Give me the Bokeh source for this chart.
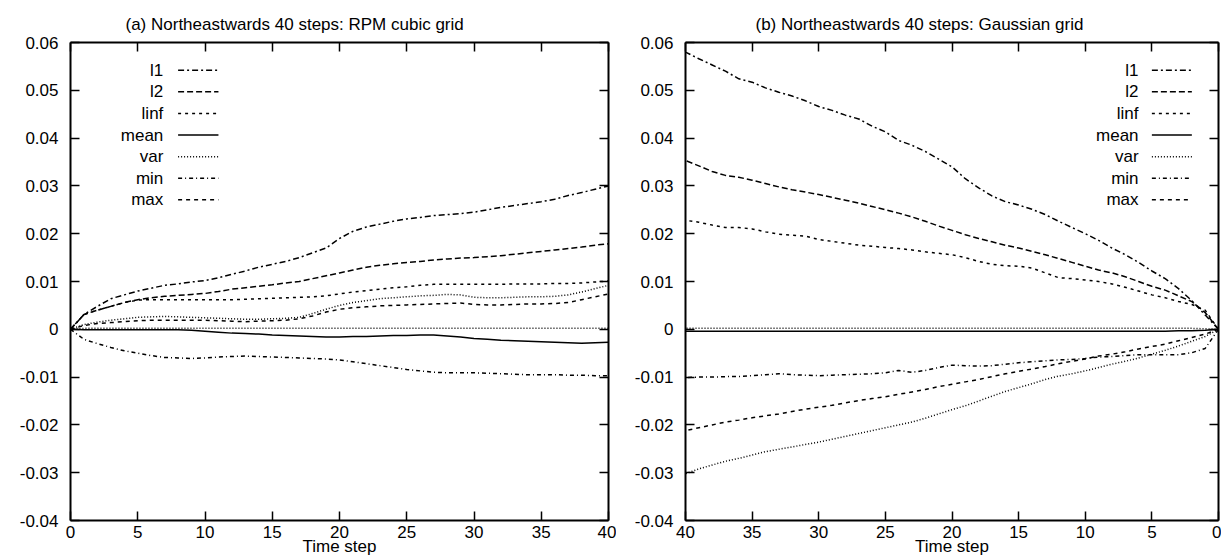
from bokeh.plotting import figure
from bokeh.layouts import row
from bokeh.models import Range1d, FixedTicker, LinearAxis
from bokeh.embed import file_html
from bokeh.resources import INLINE
from bokeh.core.properties import value

# ---------------- data ----------------
steps = list(range(41))
x_ticks = [0, 5, 10, 15, 20, 25, 30, 35, 40]
x_tick_labels = ["0", "5", "10", "15", "20", "25", "30", "35", "40"]
y_ticks = [-0.04, -0.03, -0.02, -0.01, 0.0, 0.01, 0.02, 0.03, 0.04, 0.05, 0.06]
y_tick_labels = ["-0.04", "-0.03", "-0.02", "-0.01", "0", "0.01", "0.02", "0.03", "0.04", "0.05", "0.06"]
legend_names = ["l1", "l2", "linf", "mean", "var", "min", "max"]
title_a = "(a) Northeastwards 40 steps: RPM cubic grid"
title_b = "(b) Northeastwards 40 steps: Gaussian grid"
x_label = "Time step"

# panel (a): RPM cubic grid
a_l1 = [0, 0.0031, 0.0048, 0.0064, 0.0072, 0.0080, 0.0086, 0.0092, 0.0095, 0.0099,
        0.0102, 0.0108, 0.0115, 0.0122, 0.0130, 0.0136, 0.0142, 0.0150, 0.0160, 0.0170,
        0.0190, 0.0205, 0.0214, 0.0220, 0.0226, 0.0231, 0.0234, 0.0238, 0.0240, 0.0242,
        0.0245, 0.0250, 0.0255, 0.0259, 0.0263, 0.0267, 0.0272, 0.0280, 0.0286, 0.0293, 0.0300]
a_l2 = [0, 0.0031, 0.0040, 0.0048, 0.0056, 0.0062, 0.0066, 0.0069, 0.0071, 0.0073,
        0.0075, 0.0079, 0.0084, 0.0087, 0.0090, 0.0093, 0.0097, 0.0100, 0.0106, 0.0112,
        0.0118, 0.0124, 0.0130, 0.0134, 0.0137, 0.0140, 0.0142, 0.0145, 0.0147, 0.0149,
        0.0150, 0.0152, 0.0154, 0.0157, 0.0160, 0.0163, 0.0166, 0.0169, 0.0172, 0.0176, 0.0179]
a_linf = [0, 0.0031, 0.0040, 0.0048, 0.0056, 0.0061, 0.0062, 0.0062, 0.0062, 0.0062,
          0.0062, 0.0062, 0.0062, 0.0063, 0.0064, 0.0065, 0.0066, 0.0067, 0.0068, 0.0070,
          0.0074, 0.0078, 0.0081, 0.0084, 0.0087, 0.0089, 0.0092, 0.0094, 0.0094, 0.0094,
          0.0094, 0.0094, 0.0094, 0.0095, 0.0095, 0.0095, 0.0096, 0.0096, 0.0097, 0.0099, 0.0101]
a_mean = [0, -0.0001, -0.0001, -0.0001, -0.0001, -0.0001, -0.0001, -0.0001, -0.0001, -0.0002,
          -0.0004, -0.0006, -0.0008, -0.0009, -0.0010, -0.0012, -0.0013, -0.0014, -0.0015, -0.0016,
          -0.0016, -0.0015, -0.0015, -0.0014, -0.0013, -0.0013, -0.0012, -0.0012, -0.0014, -0.0016,
          -0.0019, -0.0021, -0.0023, -0.0024, -0.0025, -0.0026, -0.0027, -0.0028, -0.0029, -0.0028, -0.0027]
a_var = [0, 0.0002, 0.0002, 0.0002, 0.0002, 0.0002, 0.0002, 0.0002, 0.0002, 0.0002,
         0.0002, 0.0002, 0.0002, 0.0002, 0.0002, 0.0002, 0.0002, 0.0002, 0.0002, 0.0002,
         0.0002, 0.0002, 0.0002, 0.0002, 0.0002, 0.0002, 0.0002, 0.0002, 0.0002, 0.0002,
         0.0002, 0.0002, 0.0002, 0.0002, 0.0002, 0.0002, 0.0002, 0.0002, 0.0002, 0.0002, 0.0002]
a_min = [0, -0.0021, -0.0030, -0.0038, -0.0045, -0.0050, -0.0055, -0.0059, -0.0060, -0.0061,
         -0.0060, -0.0058, -0.0057, -0.0056, -0.0057, -0.0058, -0.0059, -0.0060, -0.0061, -0.0062,
         -0.0064, -0.0068, -0.0072, -0.0076, -0.0080, -0.0084, -0.0087, -0.0090, -0.0091, -0.0091,
         -0.0091, -0.0092, -0.0093, -0.0094, -0.0095, -0.0095, -0.0095, -0.0096, -0.0096, -0.0097, -0.0097]
a_max = [0, 0.0008, 0.0012, 0.0014, 0.0016, 0.0018, 0.0019, 0.0019, 0.0019, 0.0019,
         0.0019, 0.0018, 0.0017, 0.0016, 0.0017, 0.0018, 0.0019, 0.0022, 0.0028, 0.0036,
         0.0042, 0.0045, 0.0047, 0.0049, 0.0050, 0.0051, 0.0052, 0.0053, 0.0054, 0.0055,
         0.0052, 0.0051, 0.0051, 0.0052, 0.0053, 0.0053, 0.0054, 0.0056, 0.0062, 0.0068, 0.0074]
a_extra = [0, 0.0010, 0.0015, 0.0019, 0.0022, 0.0025, 0.0026, 0.0027, 0.0026, 0.0025,
           0.0024, 0.0023, 0.0022, 0.0021, 0.0021, 0.0022, 0.0023, 0.0025, 0.0033, 0.0042,
           0.0050, 0.0056, 0.0060, 0.0064, 0.0066, 0.0068, 0.0070, 0.0071, 0.0073, 0.0072,
           0.0067, 0.0066, 0.0066, 0.0067, 0.0068, 0.0068, 0.0069, 0.0072, 0.0078, 0.0085, 0.0092]

# panel (b): Gaussian grid
b_l1 = [0, 0.0030, 0.0060, 0.0085, 0.0106, 0.0122, 0.0140, 0.0156, 0.0170, 0.0186,
        0.0200, 0.0213, 0.0226, 0.0240, 0.0251, 0.0260, 0.0267, 0.0279, 0.0296, 0.0315,
        0.0340, 0.0356, 0.0372, 0.0385, 0.0395, 0.0413, 0.0425, 0.0440, 0.0448, 0.0458,
        0.0466, 0.0478, 0.0488, 0.0496, 0.0505, 0.0517, 0.0524, 0.0540, 0.0553, 0.0566, 0.0580]
b_l2 = [0, 0.0035, 0.0058, 0.0070, 0.0082, 0.0090, 0.0100, 0.0110, 0.0118, 0.0124,
        0.0132, 0.0140, 0.0148, 0.0156, 0.0163, 0.0170, 0.0176, 0.0183, 0.0190, 0.0198,
        0.0207, 0.0216, 0.0226, 0.0235, 0.0243, 0.0250, 0.0257, 0.0264, 0.0270, 0.0276,
        0.0282, 0.0287, 0.0292, 0.0298, 0.0305, 0.0312, 0.0318, 0.0322, 0.0330, 0.0342, 0.0353]
b_linf = [0, 0.0040, 0.0052, 0.0058, 0.0066, 0.0072, 0.0080, 0.0088, 0.0095, 0.0100,
          0.0103, 0.0106, 0.0108, 0.0118, 0.0128, 0.0132, 0.0133, 0.0136, 0.0142, 0.0150,
          0.0156, 0.0159, 0.0162, 0.0166, 0.0169, 0.0171, 0.0174, 0.0176, 0.0180, 0.0184,
          0.0188, 0.0195, 0.0197, 0.0199, 0.0204, 0.0210, 0.0213, 0.0213, 0.0218, 0.0224, 0.0228]
b_mean = [0, -0.0002, -0.0003, -0.0003, -0.0004, -0.0004, -0.0004, -0.0004, -0.0004, -0.0004,
          -0.0004, -0.0004, -0.0004, -0.0004, -0.0004, -0.0004, -0.0004, -0.0004, -0.0004, -0.0004,
          -0.0004, -0.0004, -0.0004, -0.0004, -0.0004, -0.0004, -0.0004, -0.0004, -0.0004, -0.0004,
          -0.0004, -0.0004, -0.0004, -0.0004, -0.0004, -0.0004, -0.0004, -0.0004, -0.0004, -0.0004, -0.0004]
b_var = [0, 0.0001, 0.0002, 0.0002, 0.0002, 0.0002, 0.0002, 0.0002, 0.0002, 0.0002,
         0.0002, 0.0002, 0.0002, 0.0002, 0.0002, 0.0002, 0.0002, 0.0002, 0.0002, 0.0002,
         0.0002, 0.0002, 0.0002, 0.0002, 0.0002, 0.0002, 0.0002, 0.0002, 0.0002, 0.0002,
         0.0002, 0.0002, 0.0002, 0.0002, 0.0002, 0.0002, 0.0002, 0.0002, 0.0002, 0.0002, 0.0002]
b_min = [0, -0.0040, -0.0049, -0.0053, -0.0053, -0.0053, -0.0053, -0.0055, -0.0057, -0.0058,
         -0.0061, -0.0063, -0.0064, -0.0066, -0.0068, -0.0070, -0.0073, -0.0076, -0.0077, -0.0076,
         -0.0075, -0.0080, -0.0086, -0.0090, -0.0086, -0.0091, -0.0093, -0.0094, -0.0095, -0.0096,
         -0.0097, -0.0096, -0.0095, -0.0093, -0.0095, -0.0097, -0.0099, -0.0099, -0.0100, -0.0100, -0.0101]
b_max = [0, -0.0010, -0.0017, -0.0024, -0.0031, -0.0036, -0.0041, -0.0047, -0.0052, -0.0056,
         -0.0062, -0.0067, -0.0072, -0.0078, -0.0083, -0.0088, -0.0093, -0.0099, -0.0105, -0.0110,
         -0.0115, -0.0120, -0.0126, -0.0131, -0.0136, -0.0141, -0.0145, -0.0149, -0.0154, -0.0159,
         -0.0163, -0.0167, -0.0172, -0.0177, -0.0181, -0.0185, -0.0190, -0.0194, -0.0200, -0.0206, -0.0212]
b_extra = [0, -0.0015, -0.0025, -0.0035, -0.0044, -0.0052, -0.0060, -0.0067, -0.0073, -0.0080,
           -0.0087, -0.0093, -0.0098, -0.0105, -0.0114, -0.0122, -0.0130, -0.0140, -0.0150, -0.0160,
           -0.0168, -0.0177, -0.0186, -0.0194, -0.0200, -0.0206, -0.0212, -0.0218, -0.0224, -0.0230,
           -0.0236, -0.0241, -0.0246, -0.0251, -0.0256, -0.0263, -0.0270, -0.0276, -0.0284, -0.0292, -0.0302]

# ---------------- styles / layout ----------------
FONT = "Liberation Sans"
FS = "17px"
LW = 1.5
FIG_H = 558
dashes = {"l1": "6 3 2 3", "l2": "6 3", "linf": "3 4", "mean": "solid",
          "var": "1 2", "min": "4 3 1 3", "max": "4 4", "extra": "1 2"}


def style_axis(ax, show_labels):
    ax.axis_line_width = 2
    ax.axis_line_color = "black"
    ax.major_tick_in = 9
    ax.major_tick_out = 0
    ax.major_tick_line_width = 1.5
    ax.major_tick_line_color = "black"
    ax.minor_tick_in = 0
    ax.minor_tick_out = 0
    ax.major_label_text_font = FONT
    ax.major_label_text_color = "black"
    if show_labels:
        ax.major_label_text_font_size = FS
    else:
        ax.major_label_text_font_size = "0px"
        ax.major_label_standoff = 0


def make_panel(title, series, x_start, x_end, width, bl, br, key_text_x, key_x0, key_x1, title_offset):
    p = figure(width=width, height=FIG_H, output_backend="svg", toolbar_location=None,
               x_range=Range1d(x_start, x_end), y_range=Range1d(-0.04, 0.06),
               min_border_left=bl, min_border_right=br, min_border_top=42, min_border_bottom=0)
    p.title.text = title
    p.title.text_font = FONT
    p.title.text_font_size = FS
    p.title.text_font_style = "normal"
    p.title.text_color = "black"
    p.title.align = "left"
    p.title.offset = title_offset
    p.title.standoff = 18
    p.grid.visible = False
    p.outline_line_color = None
    p.background_fill_color = "white"
    p.border_fill_color = "white"

    xt = FixedTicker(ticks=x_ticks)
    yt = FixedTicker(ticks=y_ticks)
    p.xaxis[0].ticker = xt
    p.yaxis[0].ticker = yt
    p.xaxis[0].major_label_overrides = dict(zip(x_ticks, x_tick_labels))
    p.yaxis[0].major_label_overrides = dict(zip(y_ticks, y_tick_labels))
    style_axis(p.xaxis[0], True)
    style_axis(p.yaxis[0], True)
    p.xaxis[0].major_label_standoff = 5
    p.yaxis[0].major_label_standoff = 12
    p.xaxis[0].axis_label = x_label
    p.xaxis[0].axis_label_text_font = FONT
    p.xaxis[0].axis_label_text_font_size = FS
    p.xaxis[0].axis_label_text_font_style = "normal"
    p.xaxis[0].axis_label_text_color = "black"
    p.xaxis[0].axis_label_standoff = -4
    top = LinearAxis(ticker=xt)
    right = LinearAxis(ticker=yt)
    style_axis(top, False)
    style_axis(right, False)
    p.add_layout(top, "above")
    p.add_layout(right, "right")

    for name, ys in series:
        p.line(steps, ys, line_color="black", line_width=LW, line_dash=dashes[name])

    # key: right-justified labels with line samples to their right
    ky0 = 0.0542
    kdy = 0.00452
    key_y = [ky0 - i * kdy for i in range(len(legend_names))]
    p.text(x=[key_text_x] * len(legend_names), y=key_y, text=legend_names,
           text_align="right", text_baseline="middle", text_color="black",
           text_font=value(FONT), text_font_size=FS)
    for name, yk in zip(legend_names, key_y):
        p.line([key_x0, key_x1], [yk, yk], line_color="black", line_width=LW,
               line_dash=dashes[name])
    return p


series_a = [("l1", a_l1), ("l2", a_l2), ("linf", a_linf), ("mean", a_mean), ("var", a_var),
            ("min", a_min), ("max", a_max), ("extra", a_extra)]
series_b = [("l1", b_l1), ("l2", b_l2), ("linf", b_linf), ("mean", b_mean), ("var", b_var),
            ("min", b_min), ("max", b_max), ("extra", b_extra)]

pa = make_panel(title_a, series_a, 0, 40, 616, 70, 8, 6.9, 8.0, 11.0, 55)
pb = make_panel(title_b, series_b, 40, 0, 605, 69, 3, 6.0, 5.0, 2.0, 70)

layout = row(pa, pb)
open("out.html", "w").write(file_html(layout, INLINE))
